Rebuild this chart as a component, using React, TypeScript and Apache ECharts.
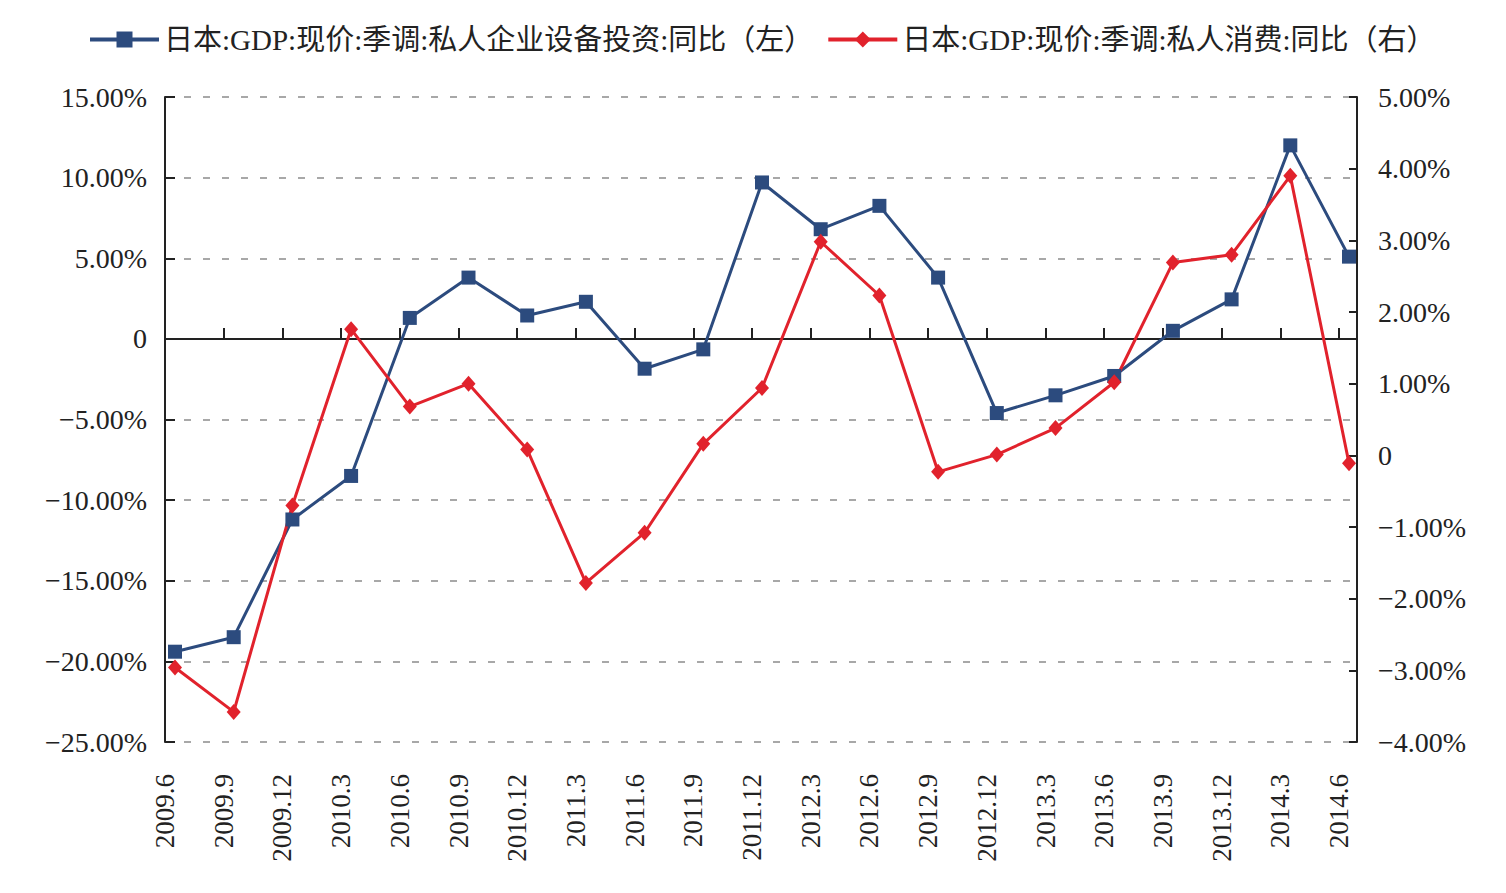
import React, { useEffect, useRef } from "react";
import * as echarts from "echarts";

// Quarter labels on the category axis
const categories = [
  "2009.6", "2009.9", "2009.12", "2010.3", "2010.6", "2010.9", "2010.12",
  "2011.3", "2011.6", "2011.9", "2011.12", "2012.3", "2012.6", "2012.9",
  "2012.12", "2013.3", "2013.6", "2013.9", "2013.12", "2014.3", "2014.6",
];

// 私人企业设备投资 同比 (%), left axis
const capexYoY = [
  -19.4, -18.5, -11.2, -8.5, 1.3, 3.8, 1.45, 2.3, -1.85, -0.65, 9.7,
  6.8, 8.25, 3.8, -4.6, -3.5, -2.3, 0.5, 2.45, 12.0, 5.1,
];

// 私人消费 同比 (%), right axis
const consumptionYoY = [
  -2.96, -3.58, -0.7, 1.76, 0.68, 1.0, 0.08, -1.78, -1.08, 0.16, 0.94,
  2.98, 2.23, -0.23, 0.01, 0.38, 1.02, 2.69, 2.8, 3.9, -0.11,
];

const seriesNames = [
  "日本:GDP:现价:季调:私人企业设备投资:同比（左）",
  "日本:GDP:现价:季调:私人消费:同比（右）",
];

// Axis ranges
const leftAxis = { min: -25, max: 15, interval: 5 };
const rightAxis = { min: -4, max: 5, interval: 1 };

const BLUE = "#2c4b7e";
const RED = "#e1222c";
const INK = "#222222";
const SERIF = "'Liberation Serif', 'Times New Roman', serif";
const MIXED = "'Liberation Serif', 'Noto Sans CJK SC', serif";

const pct = (v: number) =>
  v === 0 ? "0" : (v < 0 ? "\u2212" : "") + Math.abs(v).toFixed(2) + "%";

export default function App() {
  const ref = useRef<HTMLDivElement>(null);

  useEffect(() => {
    if (!ref.current) return;
    const chart = echarts.init(ref.current, null, { renderer: "svg" });

    // Frame spans the axes; the data grid is inset so that points sit
    // slightly to the right of each tick mark.
    const frame = { left: 165, top: 97, width: 1192, height: 645 };
    const data = { left: 175, top: 97, width: 1174, height: 645 };
    const frameMax = frame.width / (data.width / (categories.length - 1));

    const option: any = {
      animation: false,
      backgroundColor: "#ffffff",
      legend: {
        top: 20,
        left: 83,
        itemWidth: 69,
        itemHeight: 20,
        itemGap: 13,
        lineStyle: { width: 4 },
        textStyle: { fontSize: 29, fontFamily: MIXED, color: INK },
        data: seriesNames,
      },
      grid: [
        { ...frame, containLabel: false },
        { ...frame, containLabel: false },
        { ...data, containLabel: false },
      ],
      xAxis: [
        {
          // zero line with upward ticks
          gridIndex: 0,
          type: "value",
          min: 0,
          max: frameMax,
          interval: 1,
          position: "bottom",
          axisLine: {
            onZero: true,
            onZeroAxisIndex: 0,
            lineStyle: { color: INK, width: 2 },
          },
          axisTick: { show: true, inside: true, length: 11, lineStyle: { color: INK, width: 2 } },
          axisLabel: { show: false },
          splitLine: { show: false },
        },
        {
          // rotated quarter labels along the bottom
          gridIndex: 1,
          type: "value",
          min: 0,
          max: frameMax,
          interval: 1,
          position: "bottom",
          axisLine: { show: false, onZero: false },
          axisTick: { show: false },
          splitLine: { show: false },
          axisLabel: {
            rotate: 90,
            margin: 32,
            fontSize: 27,
            fontFamily: SERIF,
            color: INK,
            formatter: (v: number) =>
              Number.isInteger(v) && categories[v] ? categories[v] : "",
          },
        },
        {
          gridIndex: 2,
          type: "category",
          boundaryGap: false,
          data: categories,
          show: false,
        },
      ],
      yAxis: [
        {
          gridIndex: 0,
          type: "value",
          position: "left",
          ...leftAxis,
          axisLine: { show: true, lineStyle: { color: INK, width: 2 } },
          axisTick: { show: true, inside: true, length: 10, lineStyle: { color: INK, width: 2 } },
          axisLabel: { margin: 18, fontSize: 28, fontFamily: SERIF, color: INK, formatter: pct },
          splitLine: {
            show: true,
            lineStyle: { color: "#8c8c8c", width: 1.5, type: [7, 12] },
          },
        },
        {
          gridIndex: 0,
          type: "value",
          position: "right",
          ...rightAxis,
          axisLine: { show: true, lineStyle: { color: INK, width: 2 } },
          axisTick: { show: true, inside: true, length: 8, lineStyle: { color: INK, width: 2 } },
          axisLabel: { margin: 21, fontSize: 28, fontFamily: SERIF, color: INK, formatter: pct },
          splitLine: { show: false },
        },
        { gridIndex: 1, type: "value", min: 0, max: 1, show: false },
        { gridIndex: 2, type: "value", ...leftAxis, show: false },
        { gridIndex: 2, type: "value", ...rightAxis, show: false },
      ],
      series: [
        {
          name: seriesNames[0],
          type: "line",
          xAxisIndex: 2,
          yAxisIndex: 3,
          data: capexYoY,
          symbol: "rect",
          symbolSize: 14,
          clip: false,
          lineStyle: { color: BLUE, width: 3 },
          itemStyle: { color: BLUE },
          emphasis: { disabled: true },
        },
        {
          name: seriesNames[1],
          type: "line",
          xAxisIndex: 2,
          yAxisIndex: 4,
          data: consumptionYoY,
          symbol: "diamond",
          symbolSize: [14, 16],
          clip: false,
          lineStyle: { color: RED, width: 3 },
          itemStyle: { color: RED },
          emphasis: { disabled: true },
        },
      ],
    };

    chart.setOption(option);
    return () => chart.dispose();
  }, []);

  return (
    <div
      ref={ref}
      style={{ position: "fixed", left: 0, top: 0, width: 1506, height: 893, background: "#fff" }}
    />
  );
}
